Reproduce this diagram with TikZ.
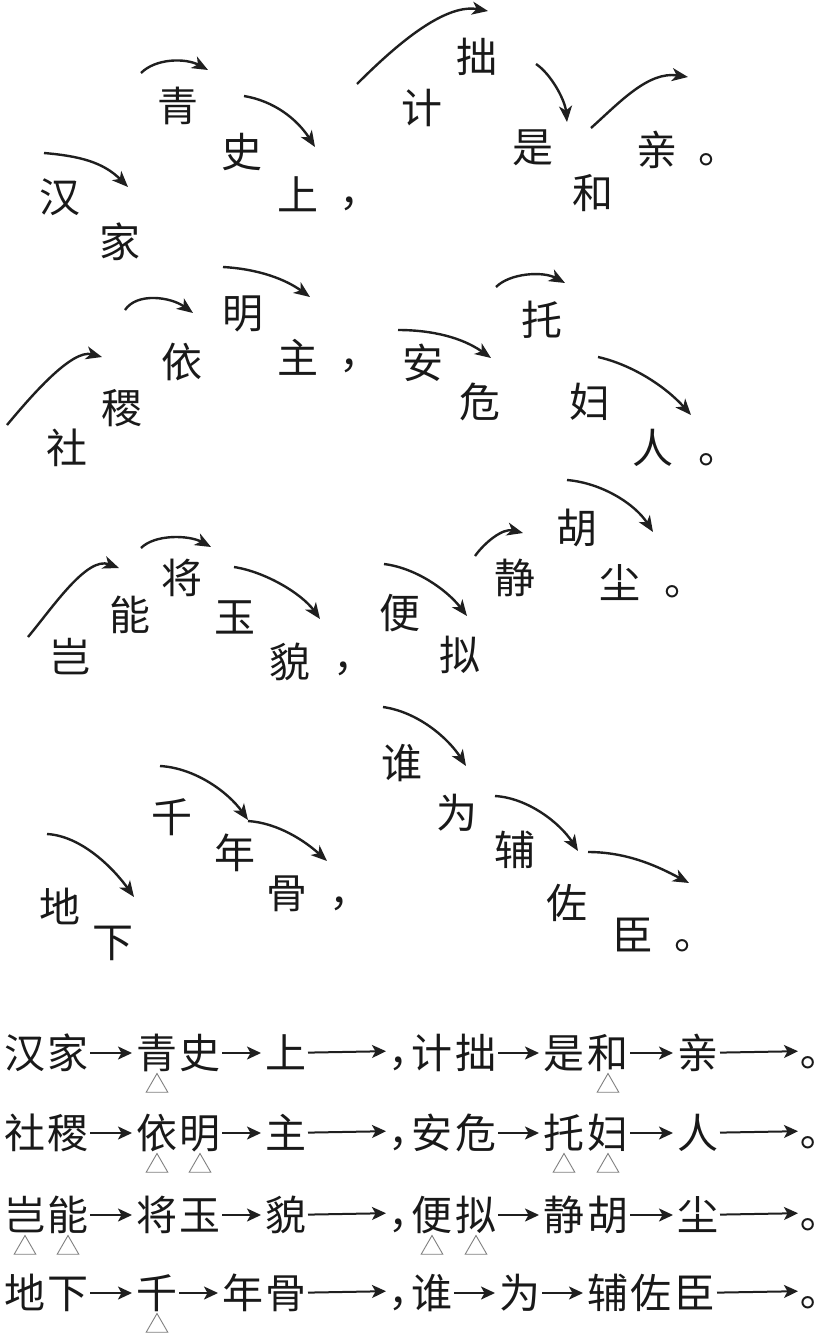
\documentclass[tikz,border=0pt]{standalone}
\usepackage{fontspec}
\newfontfamily\cjk{Noto Sans CJK SC}
\usetikzlibrary{arrows.meta,shapes.geometric}
\newcommand{\pct}[1]{\makebox[18pt][l]{#1}}
\begin{document}
\begin{tikzpicture}[x=1pt,y=-1pt,
  zi/.style={font=\cjk\fontsize{41}{41}\selectfont, inner sep=0pt, outer sep=0pt, text height=36.1pt, text depth=4.9pt, text=black!90},
  carr/.style={draw=black!88, line width=2.4pt, -{Stealth[length=16pt,width=13pt,inset=4.5pt]}},
  barr/.style={draw=black!88, line width=2pt, -{Stealth[length=14pt,width=13pt,inset=3.5pt]}, shorten <=1.5pt, shorten >=4.5pt},
  longarr/.style={barr, shorten >=2pt},
  tri/.style={draw=black!50, line width=0.9pt, regular polygon, regular polygon sides=3, minimum size=25pt, inner sep=0pt},
]
\fill[white] (0,0) rectangle (821,1336);
\useasboundingbox (0,0) rectangle (821,1336);

% ---------- upper part: row 1 ----------
\node[zi] (han)   at (60,197)  {汉};
\node[zi] (jia)   at (120,242) {家};
\node[zi] (qing)  at (178,106) {青};
\node[zi] (shi)   at (242,152) {史};
\node[zi] (shang) at (298,195) {上};
\node[zi] (pa)    at (348,191) {\pct{，}};
\node[zi] (ji)    at (422,108) {计};
\node[zi] (zhuo)  at (477,57)  {拙};
\node[zi] (shi2)  at (533,147) {是};
\node[zi] (he)    at (593,193) {和};
\node[zi] (qin)   at (657,150) {亲};
\node[zi] (pb)    at (707,148) {\pct{。}};

\coordinate (a1s) at (44,153);  \coordinate (a1e) at (128,187);
\coordinate (a2s) at (141,73);  \coordinate (a2e) at (208,70);
\coordinate (a3s) at (244,96);  \coordinate (a3e) at (315,147);
\coordinate (a4s) at (357,84);  \coordinate (a4e) at (488,11);
\coordinate (a5s) at (536,64);  \coordinate (a5e) at (567,122);
\coordinate (a6s) at (591,128); \coordinate (a6e) at (688,77);
\draw[carr] (a1s) .. controls +(35,3) and +(-25,-25) .. (a1e);
\draw[carr] (a2s) .. controls +(15,-15) and +(-22,-12) .. (a2e);
\draw[carr] (a3s) .. controls +(30,5) and +(-18,-28) .. (a3e);
\draw[carr] (a4s) .. controls +(35,-35) and +(-45,-8) .. (a4e);
\draw[carr] (a5s) .. controls +(15,10) and +(-2,-22) .. (a5e);
\draw[carr] (a6s) .. controls +(28,-25) and +(-40,-6) .. (a6e);

% ---------- row 2 ----------
\node[zi] (she)  at (67,448)  {社};
\node[zi] (ji2)  at (122,408) {稷};
\node[zi] (yi)   at (182,362) {依};
\node[zi] (ming) at (243,313) {明};
\node[zi] (zhu)  at (298,358) {主};
\node[zi] (pc)   at (348,353) {\pct{，}};
\node[zi] (an)   at (423,363) {安};
\node[zi] (wei)  at (480,402) {危};
\node[zi] (tuo)  at (542,320) {托};
\node[zi] (fu)   at (590,402) {妇};
\node[zi] (ren)  at (653,448) {人};
\node[zi] (pd)   at (707,448) {\pct{。}};

\coordinate (b1s) at (7,425);   \coordinate (b1e) at (102,357);
\coordinate (b2s) at (125,310); \coordinate (b2e) at (193,313);
\coordinate (b3s) at (223,267); \coordinate (b3e) at (310,297);
\coordinate (b4s) at (398,330); \coordinate (b4e) at (491,358);
\coordinate (b5s) at (496,287); \coordinate (b5e) at (565,283);
\coordinate (b6s) at (598,357); \coordinate (b6e) at (691,415);
\draw[carr] (b1s) .. controls +(25,-30) and +(-30,-8) .. (b1e);
\draw[carr] (b2s) .. controls +(12,-18) and +(-22,-16) .. (b2e);
\draw[carr] (b3s) .. controls +(35,2) and +(-25,-18) .. (b3e);
\draw[carr] (b4s) .. controls +(35,0) and +(-28,-20) .. (b4e);
\draw[carr] (b5s) .. controls +(14,-14) and +(-22,-12) .. (b5e);
\draw[carr] (b6s) .. controls +(35,8) and +(-25,-28) .. (b6e);

% ---------- row 3 ----------
\node[zi] (qi)    at (70,657)  {岂};
\node[zi] (neng)  at (130,615) {能};
\node[zi] (jiang) at (182,578) {将};
\node[zi] (yu)    at (235,617) {玉};
\node[zi] (mao)   at (290,662) {貌};
\node[zi] (pe)    at (342,656) {\pct{，}};
\node[zi] (bian)  at (400,613) {便};
\node[zi] (ni)    at (460,655) {拟};
\node[zi] (jing)  at (515,578) {静};
\node[zi] (hu)    at (577,528) {胡};
\node[zi] (chen)  at (620,583) {尘};
\node[zi] (pf)    at (673,580) {\pct{。}};

\coordinate (c1s) at (28,637);  \coordinate (c1e) at (119,568);
\coordinate (c2s) at (141,548); \coordinate (c2e) at (211,547);
\coordinate (c3s) at (234,567); \coordinate (c3e) at (320,619);
\coordinate (c4s) at (384,564); \coordinate (c4e) at (467,616);
\coordinate (c5s) at (475,556); \coordinate (c5e) at (523,533);
\coordinate (c6s) at (567,480); \coordinate (c6e) at (653,532);
\draw[carr] (c1s) .. controls +(25,-30) and +(-32,-12) .. (c1e);
\draw[carr] (c2s) .. controls +(14,-14) and +(-22,-12) .. (c2e);
\draw[carr] (c3s) .. controls +(32,5) and +(-18,-25) .. (c3e);
\draw[carr] (c4s) .. controls +(32,4) and +(-20,-26) .. (c4e);
\draw[carr] (c5s) .. controls +(10,-14) and +(-20,-5) .. (c5e);
\draw[carr] (c6s) .. controls +(35,3) and +(-18,-28) .. (c6e);

% ---------- row 4 ----------
\node[zi] (di)    at (60,907)  {地};
\node[zi] (xia)   at (113,942) {下};
\node[zi] (qian)  at (172,817) {千};
\node[zi] (nian)  at (235,853) {年};
\node[zi] (gu)    at (287,893) {骨};
\node[zi] (pg)    at (338,891) {\pct{，}};
\node[zi] (shui)  at (402,763) {谁};
\node[zi] (wei2)  at (457,813) {为};
\node[zi] (fu2)   at (515,850) {辅};
\node[zi] (zuo)   at (567,903) {佐};
\node[zi] (chen2) at (633,935) {臣};
\node[zi] (ph)    at (683,934) {\pct{。}};

\coordinate (d1s) at (47,834);  \coordinate (d1e) at (134,897);
\coordinate (d2s) at (160,766); \coordinate (d2e) at (248,820);
\coordinate (d3s) at (248,821); \coordinate (d3e) at (327,861);
\coordinate (d4s) at (383,707); \coordinate (d4e) at (466,766);
\coordinate (d5s) at (495,796); \coordinate (d5e) at (578,851);
\coordinate (d6s) at (588,852); \coordinate (d6e) at (689,883);
\draw[carr] (d1s) .. controls +(35,2) and +(-20,-28) .. (d1e);
\draw[carr] (d2s) .. controls +(35,2) and +(-20,-28) .. (d2e);
\draw[carr] (d3s) .. controls +(30,2) and +(-22,-20) .. (d3e);
\draw[carr] (d4s) .. controls +(35,5) and +(-18,-28) .. (d4e);
\draw[carr] (d5s) .. controls +(33,2) and +(-18,-28) .. (d5e);
\draw[carr] (d6s) .. controls +(40,0) and +(-30,-16) .. (d6e);

% ---------- lower part: line 1 ----------
\node[zi] (l1a) at (25,1053)  {汉};
\node[zi] (l1b) at (68,1053)  {家};
\node[zi] (l1c) at (157,1053) {青};
\node[zi] (l1d) at (200,1053) {史};
\node[zi] (l1e) at (286,1053) {上};
\node[zi] (l1p) at (397,1051) {\pct{，}};
\node[zi] (l1f) at (432,1053) {计};
\node[zi] (l1g) at (476,1053) {拙};
\node[zi] (l1h) at (564,1053) {是};
\node[zi] (l1i) at (608,1053) {和};
\node[zi] (l1j) at (698,1053) {亲};
\node[zi] (l1q) at (809,1051) {\pct{｡}};
\draw[barr] (l1b) -- (l1c);
\draw[barr] (l1d) -- (l1e);
\draw[longarr] (l1e) -- (l1p);
\draw[barr] (l1g) -- (l1h);
\draw[barr] (l1i) -- (l1j);
\draw[longarr] (l1j) -- (l1q);
\node[tri] (t1a) at (157,1086) {};
\node[tri] (t1b) at (608,1086) {};

% ---------- line 2 ----------
\node[zi] (l2a) at (25,1133)  {社};
\node[zi] (l2b) at (68,1133)  {稷};
\node[zi] (l2c) at (157,1133) {依};
\node[zi] (l2d) at (200,1133) {明};
\node[zi] (l2e) at (286,1133) {主};
\node[zi] (l2p) at (397,1131) {\pct{，}};
\node[zi] (l2f) at (432,1133) {安};
\node[zi] (l2g) at (476,1133) {危};
\node[zi] (l2h) at (564,1133) {托};
\node[zi] (l2i) at (608,1133) {妇};
\node[zi] (l2j) at (698,1133) {人};
\node[zi] (l2q) at (809,1131) {\pct{｡}};
\draw[barr] (l2b) -- (l2c);
\draw[barr] (l2d) -- (l2e);
\draw[longarr] (l2e) -- (l2p);
\draw[barr] (l2g) -- (l2h);
\draw[barr] (l2i) -- (l2j);
\draw[longarr] (l2j) -- (l2q);
\node[tri] (t2a) at (157,1166) {};
\node[tri] (t2b) at (200,1166) {};
\node[tri] (t2c) at (564,1166) {};
\node[tri] (t2d) at (608,1166) {};

% ---------- line 3 ----------
\node[zi] (l3a) at (25,1215)  {岂};
\node[zi] (l3b) at (68,1215)  {能};
\node[zi] (l3c) at (157,1215) {将};
\node[zi] (l3d) at (200,1215) {玉};
\node[zi] (l3e) at (286,1215) {貌};
\node[zi] (l3p) at (397,1213) {\pct{，}};
\node[zi] (l3f) at (432,1215) {便};
\node[zi] (l3g) at (476,1215) {拟};
\node[zi] (l3h) at (564,1215) {静};
\node[zi] (l3i) at (608,1215) {胡};
\node[zi] (l3j) at (698,1215) {尘};
\node[zi] (l3q) at (809,1213) {\pct{｡}};
\draw[barr] (l3b) -- (l3c);
\draw[barr] (l3d) -- (l3e);
\draw[longarr] (l3e) -- (l3p);
\draw[barr] (l3g) -- (l3h);
\draw[barr] (l3i) -- (l3j);
\draw[longarr] (l3j) -- (l3q);
\node[tri] (t3a) at (25,1248) {};
\node[tri] (t3b) at (68,1248) {};
\node[tri] (t3c) at (432,1248) {};
\node[tri] (t3d) at (476,1248) {};

% ---------- line 4 ----------
\node[zi] (l4a) at (25,1293)  {地};
\node[zi] (l4b) at (68,1293)  {下};
\node[zi] (l4c) at (157,1293) {千};
\node[zi] (l4d) at (243,1293) {年};
\node[zi] (l4e) at (286,1293) {骨};
\node[zi] (l4p) at (397,1291) {\pct{，}};
\node[zi] (l4f) at (432,1293) {谁};
\node[zi] (l4g) at (520,1293) {为};
\node[zi] (l4h) at (608,1293) {辅};
\node[zi] (l4i) at (651,1293) {佐};
\node[zi] (l4j) at (695,1293) {臣};
\node[zi] (l4q) at (809,1291) {\pct{｡}};
\draw[barr] (l4b) -- (l4c);
\draw[barr] (l4c) -- (l4d);
\draw[longarr] (l4e) -- (l4p);
\draw[barr] (l4f) -- (l4g);
\draw[barr] (l4g) -- (l4h);
\draw[longarr] (l4j) -- (l4q);
\node[tri] (t4a) at (157,1326) {};
\end{tikzpicture}
\end{document}
